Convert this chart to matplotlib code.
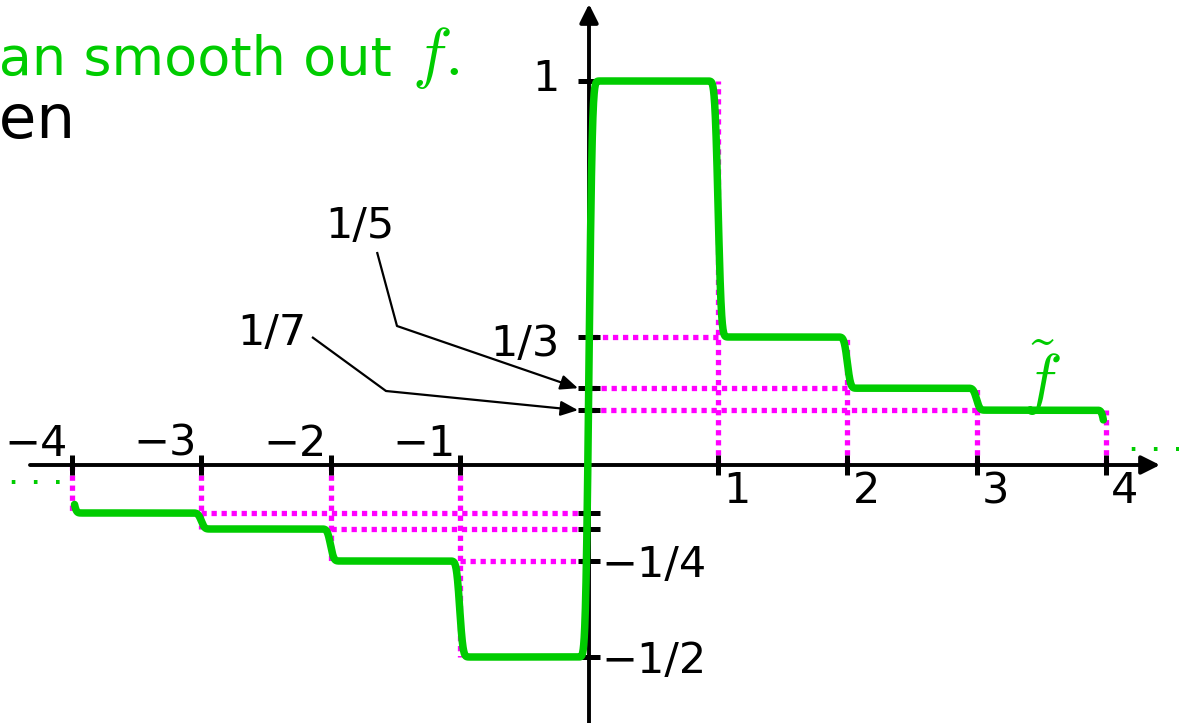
import matplotlib
matplotlib.use('Agg')
import matplotlib.pyplot as plt
import numpy as np

# step function f: value on each unit interval between the break points
breaks = [-4, -3, -2, -1, 0, 1, 2, 3, 4]
levels = [-1/8, -1/6, -1/4, -1/2, 1, 1/3, 1/5, 1/7]

x_ticks = [-4, -3, -2, -1, 1, 2, 3, 4]
x_tick_labels = ['\u22124', '\u22123', '\u22122', '\u22121', '1', '2', '3', '4']

y_ticks = levels
y_tick_labels = {1: '1', 1/3: '1/3', -1/4: '\u22121/4', -1/2: '\u22121/2'}
arrow_labels = {1/5: '1/5', 1/7: '1/7'}

GREEN = '#00cc00'
MAGENTA = '#ff00ff'

# canvas layout in pixels: where x=0 / y=0 sit and pixels per unit
X0, XS = 589.0, 129.2
Y0, YS = 465.0, 384.0
W, H = 1179, 723


def px(u, v):
    return (u - X0) / XS, (Y0 - v) / YS


def smooth_step(sigma=0.02, dx=0.001):
    xs = np.arange(-5, 5 + dx / 2, dx)
    f = np.zeros_like(xs)
    for a, b, lvl in zip(breaks[:-1], breaks[1:], levels):
        f[(xs >= a) & (xs < b)] = lvl
    k = np.arange(-5 * sigma, 5 * sigma + dx / 2, dx)
    g = np.exp(-0.5 * (k / sigma) ** 2)
    g /= g.sum()
    fs = np.convolve(f, g, mode='same')
    trim = 0.9 * sigma
    keep = (xs >= breaks[0] + trim) & (xs <= breaks[-1] - trim)
    return xs[keep], fs[keep]


def plot():
    plt.rcParams['mathtext.fontset'] = 'cm'
    plt.rcParams['font.family'] = ['DejaVu Sans']

    fig = plt.figure(figsize=(W / 100, H / 100), dpi=100)
    ax = fig.add_axes([0, 0, 1, 1])
    ax.set_xlim(px(0, 0)[0], px(W, 0)[0])
    ax.set_ylim(px(0, H)[1], px(0, 0)[1])
    ax.axis('off')

    # dotted guide lines: vertical at the far end of each step, horizontal back to the y axis
    dots = dict(color=MAGENTA, lw=3.8, linestyle=(0, (1, 0.9)),
                dash_capstyle='butt', zorder=1)
    for a, b, lvl in zip(breaks[:-1], breaks[1:], levels):
        far, near = (b, a) if b > 0 else (a, b)
        ax.plot([far, far], [0, lvl], **dots)
        if near != 0:
            ax.plot([near, 0], [lvl, lvl], **dots)

    # axes with arrow heads
    head = '-|>,head_length=0.8,head_width=0.4'
    ax.annotate('', xy=(px(1160, 0)[0], 0), xytext=(px(30, 0)[0], 0),
                arrowprops=dict(arrowstyle=head, lw=2.8, color='k',
                                mutation_scale=14, shrinkA=0, shrinkB=0), zorder=3)
    ax.annotate('', xy=(0, px(0, 4)[1]), xytext=(0, px(0, H + 5)[1]),
                arrowprops=dict(arrowstyle=head, lw=2.8, color='k',
                                mutation_scale=14, shrinkA=0, shrinkB=0), zorder=3)

    # tick marks
    tx = 10 / YS
    ty = 11 / XS
    ax.vlines(x_ticks, -tx, tx, color='k', lw=3.6, zorder=3)
    ax.hlines(y_ticks, -ty, ty, color='k', lw=3.6, zorder=3)

    fs = 31
    for x, lab in zip(x_ticks, x_tick_labels):
        if x < 0:
            ax.text(x - 4 / XS, px(0, 456)[1], lab, ha='right', va='baseline', fontsize=fs)
        else:
            ax.text(x + 5 / XS, px(0, 503)[1], lab, ha='left', va='baseline', fontsize=fs)

    ax.text(px(560, 0)[0], px(0, 91)[1], y_tick_labels[1], ha='right', va='baseline', fontsize=fs)
    ax.text(px(560, 0)[0], px(0, 356)[1], y_tick_labels[1/3], ha='right', va='baseline', fontsize=fs)
    ax.text(px(601, 0)[0], px(0, 577)[1], y_tick_labels[-1/4], ha='left', va='baseline', fontsize=fs)
    ax.text(px(601, 0)[0], px(0, 673)[1], y_tick_labels[-1/2], ha='left', va='baseline', fontsize=fs)

    # labels for the two small ticks, with bent arrows
    callouts = [(1/5, (360, 238), (377, 252), (397, 326)),
                (1/7, (272, 345), (312, 337), (386, 391))]
    for lvl, lab_pos, start, bend in callouts:
        ax.text(*px(*lab_pos), arrow_labels[lvl], ha='center', va='baseline', fontsize=fs)
        s, b = px(*start), px(*bend)
        ax.plot([s[0], b[0]], [s[1], b[1]], color='k', lw=1.6, solid_capstyle='butt', zorder=3)
        ax.annotate('', xy=(-ty, lvl), xytext=b,
                    arrowprops=dict(arrowstyle='-|>,head_length=0.7,head_width=0.3',
                                    lw=1.6, color='k', mutation_scale=15,
                                    shrinkA=0, shrinkB=0), zorder=3)

    # smoothed step function
    xs, ys = smooth_step()
    ax.plot(xs, ys, color=GREEN, lw=5.4, solid_capstyle='round',
            solid_joinstyle='round', zorder=4)
    ax.text(*px(1041, 402), r'$\tilde{f}$', color=GREEN, fontsize=48,
            ha='center', va='baseline')

    # continuation dots on both ends
    ax.text(*px(36, 484), '. . .', color=GREEN, fontsize=25, ha='center', va='baseline')
    ax.text(*px(1156, 451), '. . .', color=GREEN, fontsize=25, ha='center', va='baseline')

    # slide text running in from the left
    ax.text(*px(392, 75), 'can smooth out', color=GREEN, fontsize=39,
            ha='right', va='baseline')
    ax.text(*px(412, 75), r'$f.$', color=GREEN, fontsize=48,
            ha='left', va='baseline')
    ax.text(*px(76, 138), 'then', color='k', fontsize=44, ha='right', va='baseline')

    fig.savefig('out.png', dpi=100)


if __name__ == '__main__':
    plot()
